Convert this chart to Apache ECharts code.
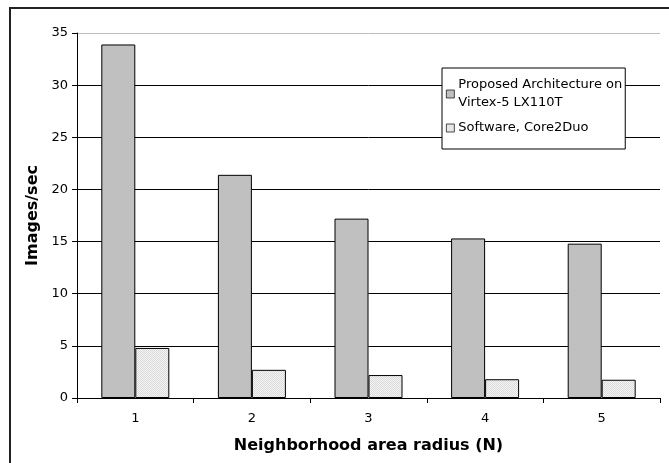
<!DOCTYPE html>
<html><head><meta charset="utf-8">
<script src="https://cdn.jsdelivr.net/npm/echarts@6/dist/echarts.min.js"></script>
<style>html,body{margin:0;padding:0;background:#fff}#c{width:669px;height:463px}</style>
</head><body><div id="c"></div>
<script>
const categories = ['1', '2', '3', '4', '5'];
const proposed = [33.9, 21.4, 17.2, 15.3, 14.8];
const software = [4.8, 2.7, 2.2, 1.8, 1.75];
const seriesNames = ['Proposed Architecture on\nVirtex-5 LX110T', 'Software, Core2Duo'];

const pc = document.createElement('canvas');
pc.width = 2; pc.height = 2;
const g = pc.getContext('2d');
g.fillStyle = '#f4f4f4'; g.fillRect(0, 0, 2, 2);
g.fillStyle = '#dadada'; g.fillRect(0, 0, 1, 1); g.fillRect(1, 1, 1, 1);

const font = 'DejaVu Sans, Verdana, sans-serif';
const chart = echarts.init(document.getElementById('c'), null, {renderer: 'canvas'});
chart.setOption({
  animation: false,
  backgroundColor: '#fff',
  textStyle: {fontFamily: font},
  grid: {left: 77, right: 9, top: 33, bottom: 65, containLabel: false},
  legend: {
    orient: 'vertical', left: 442, top: 68,
    padding: [8, 3, 12, 4], itemGap: 7,
    backgroundColor: '#fff', borderColor: '#000', borderWidth: 1,
    itemWidth: 8, itemHeight: 8, icon: 'rect',
    itemStyle: {borderWidth: 0.7},
    textStyle: {fontFamily: font, fontSize: 13, color: '#000', lineHeight: 18, padding: [0, 0, 0, -1]},
    data: seriesNames
  },
  xAxis: {
    type: 'category', data: categories,
    name: 'Neighborhood area radius (N)', nameLocation: 'middle', nameGap: 40,
    nameTextStyle: {fontFamily: font, fontSize: 16, fontWeight: 'bold', color: '#000'},
    axisLine: {lineStyle: {color: '#000', width: 1}},
    axisTick: {show: true, length: 5, lineStyle: {color: '#000'}},
    axisLabel: {color: '#000', fontSize: 13, margin: 14, fontFamily: font}
  },
  yAxis: {
    type: 'value', min: 0, max: 35, interval: 5,
    name: 'Images/sec', nameLocation: 'middle', nameGap: 36, nameRotate: 90,
    nameTextStyle: {fontFamily: font, fontSize: 16, fontWeight: 'bold', color: '#000'},
    axisLine: {show: true, lineStyle: {color: '#000', width: 1}},
    axisTick: {show: true, length: 5, lineStyle: {color: '#000'}},
    axisLabel: {color: '#000', fontSize: 13, margin: 9, fontFamily: font},
    splitLine: {show: true, lineStyle: {color: ['#000', '#000', '#000', '#000', '#000', '#000', '#000', '#bdbdbd'], width: 1}}
  },
  graphic: [{
    type: 'rect', shape: {x: 10, y: 8, width: 700, height: 500},
    style: {fill: 'none', stroke: '#222', lineWidth: 2}, silent: true, z: 100
  }],
  series: [
    {name: seriesNames[0], type: 'bar', data: proposed, barWidth: 34, barGap: '0%',
     itemStyle: {color: '#c0c0c0', borderColor: '#000', borderWidth: 1}},
    {name: seriesNames[1], type: 'bar', data: software, barWidth: 34, barGap: '0%',
     itemStyle: {color: {image: pc, repeat: 'repeat'}, borderColor: '#000', borderWidth: 1}}
  ]
});
</script></body></html>
